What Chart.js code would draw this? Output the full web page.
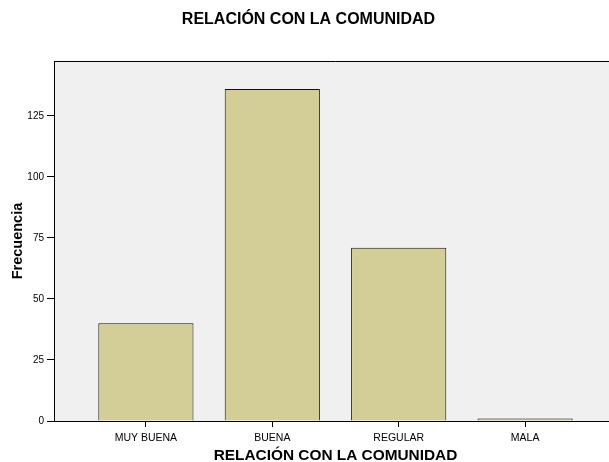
<!DOCTYPE html>
<html>
<head>
<meta charset="utf-8">
<script src="https://cdn.jsdelivr.net/npm/chart.js@4"></script>
<style>
  html, body { margin: 0; padding: 0; background: #fff; overflow: hidden; }
</style>
</head>
<body>
<canvas id="relacion" width="617" height="462"></canvas>
<script>
const categories = ["MUY BUENA", "BUENA", "REGULAR", "MALA"];
const frecuencias = [40, 136, 71, 1];
const yTicks = [0, 25, 50, 75, 100, 125];

const chartTitle = "RELACIÓN CON LA COMUNIDAD";
const xTitle = "RELACIÓN CON LA COMUNIDAD";
const yTitle = "Frecuencia";

// gray plot background, top/right frame and the x tick marks
const plotFrame = {
  id: "plotFrame",
  beforeDraw(chart) {
    const { ctx, chartArea: a } = chart;
    ctx.save();
    ctx.fillStyle = "#f0f0f0";
    ctx.fillRect(a.left, a.top, a.right - a.left, a.bottom - a.top);
    ctx.strokeStyle = "#000";
    ctx.lineWidth = 1;
    ctx.beginPath();
    ctx.moveTo(a.left, a.top + 0.5);
    ctx.lineTo(a.right - 0.5, a.top + 0.5);
    ctx.lineTo(a.right - 0.5, a.bottom);
    ctx.stroke();
    ctx.restore();
  },
  afterDraw(chart) {
    const { ctx } = chart;
    const xs = chart.scales.x;
    ctx.save();
    ctx.strokeStyle = "#000";
    ctx.lineWidth = 1;
    ctx.beginPath();
    categories.forEach((c, i) => {
      const px = Math.round(xs.getPixelForValue(i) - 0.5) + 0.5;
      ctx.moveTo(px, xs.top);
      ctx.lineTo(px, xs.top + 6);
    });
    ctx.stroke();
    ctx.restore();
  },
};

const ctx = document.getElementById("relacion").getContext("2d");
const relacion = new Chart(ctx, {
  type: "bar",
  data: {
    datasets: [
      {
        label: "Frecuencia",
        data: frecuencias.map((v, i) => ({ x: i, y: v })),
        backgroundColor: "#d3ce98",
        borderColor: "#111",
        borderWidth: 1,
        categoryPercentage: 1,
        barPercentage: 0.753,
      },
    ],
  },
  plugins: [plotFrame],
  options: {
    responsive: false,
    animation: false,
    layout: { padding: 0 },
    plugins: {
      legend: { display: false },
      tooltip: { enabled: false },
      title: {
        display: true,
        text: chartTitle,
        color: "#000",
        font: { family: "Liberation Sans", size: 16, weight: "bold" },
        padding: { top: 10, bottom: 31.8 },
      },
    },
    scales: {
      x: {
        type: "linear",
        min: -0.727,
        max: 3.727,
        offset: false,
        afterFit(scale) {
          scale.height = 41;
        },
        afterBuildTicks(scale) {
          scale.ticks = categories.map((c, i) => ({ value: i }));
        },
        ticks: {
          autoSkip: false,
          maxRotation: 0,
          padding: 5,
          color: "#000",
          font: { family: "Liberation Sans", size: 10.5 },
          callback: (v) => categories[v],
        },
        grid: {
          offset: false,
          drawOnChartArea: false,
          drawTicks: true,
          tickLength: 6,
          color: "#000",
        },
        border: { display: true, color: "#000", width: 1 },
        title: {
          display: true,
          text: xTitle,
          color: "#000",
          font: { family: "Liberation Sans", size: 15.4, weight: "bold" },
          padding: { top: 0, bottom: -3 },
        },
      },
      y: {
        min: 0,
        max: 147.5,
        afterFit(scale) {
          scale.width = 54;
        },
        afterBuildTicks(scale) {
          scale.ticks = yTicks.map((v) => ({ value: v }));
        },
        ticks: {
          padding: 3,
          color: "#000",
          font: { family: "Liberation Sans", size: 10 },
        },
        grid: {
          drawOnChartArea: false,
          drawTicks: true,
          tickLength: 7,
          color: "#000",
        },
        border: { display: true, color: "#000", width: 1 },
        title: {
          display: true,
          text: yTitle,
          color: "#000",
          font: { family: "Liberation Sans", size: 14.5, weight: "bold" },
          padding: { top: 9, bottom: 0 },
        },
      },
    },
  },
});
</script>
</body>
</html>
